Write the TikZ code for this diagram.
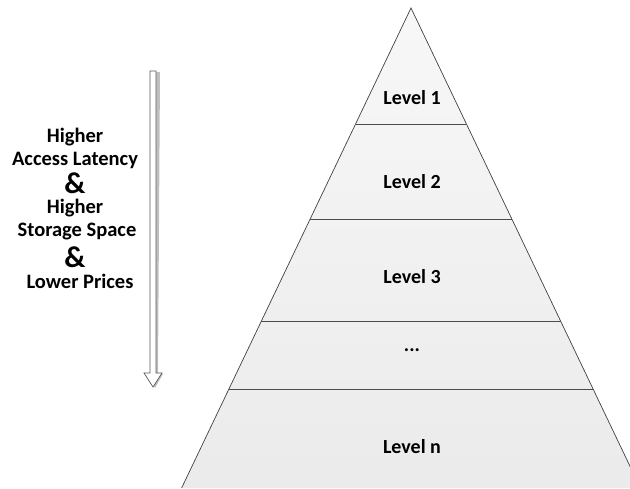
\documentclass[tikz,border=0pt]{standalone}
\usepackage{fontspec}
\setmainfont{Carlito}
\usetikzlibrary{positioning}
\usetikzlibrary{calc}

\tikzset{
  levelline/.style={draw=black!70, line width=0.8pt},
  leveltext/.style={font=\bfseries\fontsize{20}{22}\selectfont},
  sidetext/.style={inner sep=0pt, font=\bfseries\fontsize{20.5}{22}\selectfont},
  ampers/.style={inner sep=0pt, text height=20pt, text depth=0pt,
    font=\bfseries\fontsize{30}{32}\selectfont}
}

\begin{document}
\begin{tikzpicture}[x=1pt, y=-1pt]
  \useasboundingbox (0,0) rectangle (630,488);
  \clip (0,0) rectangle (630,488);

  % pyramid
  \coordinate (apex) at (411,8);
  \coordinate (bl) at (181.6,488);
  \coordinate (br) at (640.4,488);
  \shade[top color=black!3, bottom color=black!8]
    (apex) -- (bl) -- (br) -- cycle;
  \draw[black!75, line width=0.7pt] (bl) -- (apex) -- (br);
  \foreach \t in {0.2417, 0.4396, 0.6521, 0.7938}
  {
    \draw[levelline] ($(apex)!\t!(bl)$) -- ($(apex)!\t!(br)$);
  }

  \node[leveltext] (l1) at (412,98) {Level 1};
  \node[leveltext] (l2) at (412,182) {Level 2};
  \node[leveltext] (l3) at (412,277) {Level 3};
  \node[leveltext] (ldots) at (412,350) {...};
  \node[leveltext] (ln) at (412,447) {Level n};

  % hollow arrow
  \coordinate (atop) at (153,71);
  \coordinate (atip) at (153,387);
  \fill[black!25] ($(atop)+(-1,1)$) -- ++(8,0) -- ($(atip)+(5,-13)$) -- ++(5,0)
    -- ($(atip)+(2,1)$) -- ($(atip)+(-7,-13)$) -- ++(4,0) -- cycle;
  \draw[black!65, fill=white, line width=0.7pt]
    ($(atop)+(-3,0)$) -- ($(atop)+(3,0)$) -- ($(atip)+(3,-14)$) -- ($(atip)+(9,-14)$)
    -- (atip) -- ($(atip)+(-9,-14)$) -- ($(atip)+(-3,-14)$) -- cycle;

  % side text
  \node[sidetext] (hi1) at (75,137) {Higher};
  \node[sidetext] (acc) at (75,160) {Access Latency};
  \node[ampers] (amp1) at (75,183) {\&};
  \node[sidetext] (hi2) at (75,208) {Higher};
  \node[sidetext] (sto) at (77,232) {Storage Space};
  \node[ampers] (amp2) at (75,257) {\&};
  \node[sidetext] (low) at (80,281) {Lower Prices};
\end{tikzpicture}
\end{document}
